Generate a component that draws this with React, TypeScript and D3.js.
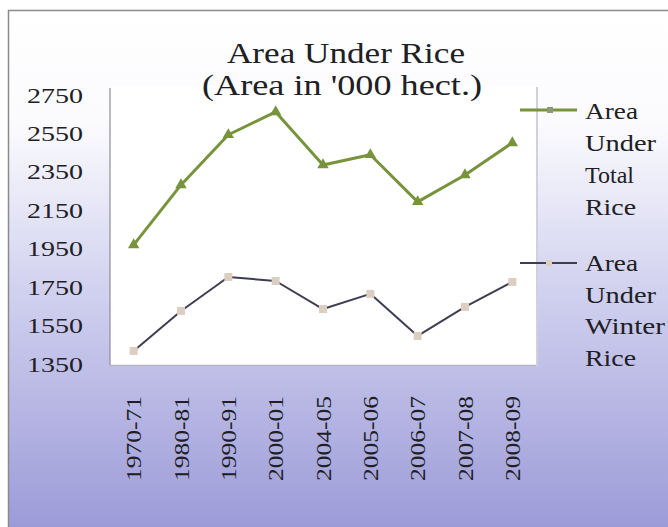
import React from "react";
import * as d3 from "d3";

const categories = ["1970-71", "1980-81", "1990-91", "2000-01", "2004-05", "2005-06", "2006-07", "2007-08", "2008-09"];
const totalRice = [1970, 2282, 2543, 2662, 2386, 2439, 2194, 2334, 2501];
const winterRice = [1418, 1626, 1803, 1782, 1636, 1715, 1496, 1647, 1777];
const yTicks = [1350, 1550, 1750, 1950, 2150, 2350, 2550, 2750];
const titleLines = ["Area Under Rice", "(Area in '000 hect.)"];
const legendTotal = ["Area", "Under", "Total", "Rice"];
const legendWinter = ["Area", "Under", "Winter", "Rice"];

const W = 668;
const H = 527;
const FONT = "'Liberation Serif', 'Times New Roman', serif";
const GREEN = "#77933c";
const DARK = "#3e3e52";
const BEIGE = "#dccfc2";
const TEXT = "#202024";

const wordWidth: Record<string, number> = { Area: 53, Under: 71, Total: 49, Rice: 51, Winter: 80 };

export default function App() {
  const plot = { left: 110, right: 536, top: 95, bottom: 364 };
  const x = d3.scaleBand<string>().domain(categories).range([plot.left, plot.right]);
  const y = d3.scaleLinear().domain([1350, 2750]).range([plot.bottom, plot.top]);
  const cx = (c: string) => (x(c) as number) + x.bandwidth() / 2;

  const line = d3
    .line<number>()
    .x((_, i) => cx(categories[i]))
    .y((v) => y(v));

  const tri = d3.symbol().type(d3.symbolTriangle).size(56)() as string;
  const sq = d3.symbol().type(d3.symbolSquare).size(64)() as string;

  return (
    <svg
      width={W}
      height={H}
      style={{ position: "absolute", left: 0, top: 0, display: "block" }}
    >
      <defs>
        <linearGradient id="bg" x1="0" y1="0" x2="0" y2="1">
          <stop offset="0%" stopColor="#ffffff" />
          <stop offset="22%" stopColor="#fbfbfe" />
          <stop offset="55%" stopColor="#d0d0ef" />
          <stop offset="100%" stopColor="#9c9bd8" />
        </linearGradient>
      </defs>
      <rect x={0} y={0} width={W} height={H} fill="#ffffff" />
      <rect x={8} y={10} width={W - 8} height={H - 10} fill="url(#bg)" />
      <line x1={8} y1={10.5} x2={W} y2={10.5} stroke="#8a8a8a" strokeWidth={1.5} />
      <line x1={8.5} y1={10} x2={8.5} y2={H} stroke="#8a8a8a" strokeWidth={1.5} />

      {/* plot area */}
      <rect x={plot.left + 2} y={plot.top - 8} width={plot.right - plot.left} height={plot.bottom - plot.top + 10} fill="#d0d0de" />
      <rect x={plot.left} y={plot.top - 9} width={plot.right - plot.left} height={plot.bottom - plot.top + 10} fill="#ffffff" />
      <line x1={plot.left} y1={plot.top - 7} x2={plot.left} y2={plot.bottom + 1} stroke="#8c8c9c" strokeWidth={1.2} />
      <line x1={plot.left} y1={plot.bottom + 1.5} x2={plot.right} y2={plot.bottom + 1.5} stroke="#b4b4c8" strokeWidth={1.5} />

      {/* title */}
      {titleLines.map((t, i) => (
        <text
          key={t}
          x={i === 0 ? 346 : 342}
          y={i === 0 ? 63 : 95}
          textAnchor="middle"
          fontFamily={FONT}
          fontSize={29}
          fill={TEXT}
          textLength={i === 0 ? 238 : 280}
          lengthAdjust="spacingAndGlyphs"
        >
          {t}
        </text>
      ))}

      {/* y ticks */}
      {yTicks.map((v) => (
        <text
          key={v}
          x={83}
          y={y(v) + 7.5}
          textAnchor="end"
          fontFamily={FONT}
          fontSize={22}
          fill={TEXT}
          textLength={56}
          lengthAdjust="spacingAndGlyphs"
        >
          {v}
        </text>
      ))}

      {/* x ticks */}
      {categories.map((c) => (
        <text
          key={c}
          transform={`translate(${cx(c) + 7.5},396) rotate(-90)`}
          textAnchor="end"
          fontFamily={FONT}
          fontSize={22}
          fill={TEXT}
          textLength={85}
          lengthAdjust="spacingAndGlyphs"
        >
          {c}
        </text>
      ))}

      {/* series */}
      <path d={line(totalRice) as string} fill="none" stroke={GREEN} strokeWidth={3} strokeLinejoin="round" />
      {totalRice.map((v, i) => (
        <path key={i} d={tri} transform={`translate(${cx(categories[i])},${y(v)})`} fill={GREEN} />
      ))}
      <path d={line(winterRice) as string} fill="none" stroke={DARK} strokeWidth={2} strokeLinejoin="round" />
      {winterRice.map((v, i) => (
        <path key={i} d={sq} transform={`translate(${cx(categories[i])},${y(v)})`} fill={BEIGE} />
      ))}

      {/* legend */}
      <line x1={520} y1={110} x2={577} y2={110} stroke={GREEN} strokeWidth={3} />
      <path d={sq} transform="translate(550,110) scale(0.75)" fill="#8a9a72" />
      {legendTotal.map((w, i) => (
        <text
          key={"t" + i}
          x={585}
          y={119 + i * 32}
          fontFamily={FONT}
          fontSize={23}
          fill={TEXT}
          textLength={wordWidth[w]}
          lengthAdjust="spacingAndGlyphs"
        >
          {w}
        </text>
      ))}
      <line x1={520} y1={263} x2={577} y2={263} stroke={DARK} strokeWidth={2} />
      <path d={sq} transform="translate(549,263) scale(0.75)" fill={BEIGE} />
      {legendWinter.map((w, i) => (
        <text
          key={"w" + i}
          x={585}
          y={271 + i * 31.5}
          fontFamily={FONT}
          fontSize={23}
          fill={TEXT}
          textLength={wordWidth[w]}
          lengthAdjust="spacingAndGlyphs"
        >
          {w}
        </text>
      ))}
    </svg>
  );
}
